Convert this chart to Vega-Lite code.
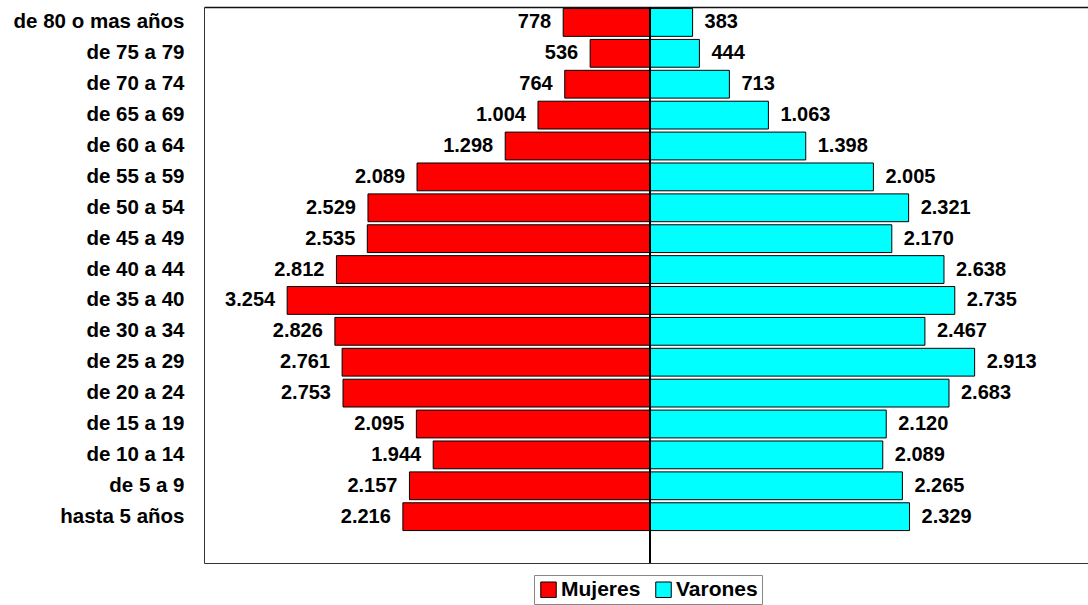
{
  "$schema": "https://vega.github.io/schema/vega-lite/v6.json",
  "width": 884,
  "height": 556,
  "autosize": {"type": "none"},
  "padding": {"left": 204, "top": 7, "right": 0, "bottom": 42},
  "config": {
    "view": {"stroke": null},
    "font": "Liberation Sans",
    "locale": {"number": {"decimal": ",", "thousands": ".", "grouping": [3], "currency": ["$", ""]}}
  },
  "data": {"values": [
    {"edad": "de 80 o mas años", "sexo": "Mujeres", "poblacion": 778},
    {"edad": "de 80 o mas años", "sexo": "Varones", "poblacion": 383},
    {"edad": "de 75 a 79", "sexo": "Mujeres", "poblacion": 536},
    {"edad": "de 75 a 79", "sexo": "Varones", "poblacion": 444},
    {"edad": "de 70 a 74", "sexo": "Mujeres", "poblacion": 764},
    {"edad": "de 70 a 74", "sexo": "Varones", "poblacion": 713},
    {"edad": "de 65 a 69", "sexo": "Mujeres", "poblacion": 1004},
    {"edad": "de 65 a 69", "sexo": "Varones", "poblacion": 1063},
    {"edad": "de 60 a 64", "sexo": "Mujeres", "poblacion": 1298},
    {"edad": "de 60 a 64", "sexo": "Varones", "poblacion": 1398},
    {"edad": "de 55 a 59", "sexo": "Mujeres", "poblacion": 2089},
    {"edad": "de 55 a 59", "sexo": "Varones", "poblacion": 2005},
    {"edad": "de 50 a 54", "sexo": "Mujeres", "poblacion": 2529},
    {"edad": "de 50 a 54", "sexo": "Varones", "poblacion": 2321},
    {"edad": "de 45 a 49", "sexo": "Mujeres", "poblacion": 2535},
    {"edad": "de 45 a 49", "sexo": "Varones", "poblacion": 2170},
    {"edad": "de 40 a 44", "sexo": "Mujeres", "poblacion": 2812},
    {"edad": "de 40 a 44", "sexo": "Varones", "poblacion": 2638},
    {"edad": "de 35 a 40", "sexo": "Mujeres", "poblacion": 3254},
    {"edad": "de 35 a 40", "sexo": "Varones", "poblacion": 2735},
    {"edad": "de 30 a 34", "sexo": "Mujeres", "poblacion": 2826},
    {"edad": "de 30 a 34", "sexo": "Varones", "poblacion": 2467},
    {"edad": "de 25 a 29", "sexo": "Mujeres", "poblacion": 2761},
    {"edad": "de 25 a 29", "sexo": "Varones", "poblacion": 2913},
    {"edad": "de 20 a 24", "sexo": "Mujeres", "poblacion": 2753},
    {"edad": "de 20 a 24", "sexo": "Varones", "poblacion": 2683},
    {"edad": "de 15 a 19", "sexo": "Mujeres", "poblacion": 2095},
    {"edad": "de 15 a 19", "sexo": "Varones", "poblacion": 2120},
    {"edad": "de 10 a 14", "sexo": "Mujeres", "poblacion": 1944},
    {"edad": "de 10 a 14", "sexo": "Varones", "poblacion": 2089},
    {"edad": "de 5 a 9", "sexo": "Mujeres", "poblacion": 2157},
    {"edad": "de 5 a 9", "sexo": "Varones", "poblacion": 2265},
    {"edad": "hasta 5 años", "sexo": "Mujeres", "poblacion": 2216},
    {"edad": "hasta 5 años", "sexo": "Varones", "poblacion": 2329}
  ]},
  "transform": [
    {"calculate": "datum.sexo === 'Mujeres' ? -datum.poblacion : datum.poblacion", "as": "x"}
  ],
  "encoding": {
    "y": {
      "field": "edad",
      "type": "nominal",
      "scale": {
        "domain": ["de 80 o mas años", "de 75 a 79", "de 70 a 74", "de 65 a 69", "de 60 a 64", "de 55 a 59", "de 50 a 54", "de 45 a 49", "de 40 a 44", "de 35 a 40", "de 30 a 34", "de 25 a 29", "de 20 a 24", "de 15 a 19", "de 10 a 14", "de 5 a 9", "hasta 5 años", " "],
        "paddingInner": 0.1,
        "paddingOuter": 0.05
      },
      "axis": {
        "title": null,
        "ticks": false,
        "domainColor": "#333333",
        "domainWidth": 1,
        "labelFontSize": 20.5,
        "labelFontWeight": "bold",
        "labelColor": "#000000",
        "labelPadding": 20
      }
    }
  },
  "layer": [
    {
      "mark": {"type": "bar", "stroke": "#000000", "strokeWidth": 1},
      "encoding": {
        "x": {
          "field": "x",
          "type": "quantitative",
          "stack": null,
          "scale": {"domain": [-4000, 3930], "nice": false, "zero": false},
          "axis": {"orient": "bottom", "title": null, "labels": false, "ticks": false, "grid": false, "domainColor": "#333333", "domainWidth": 1}
        },
        "color": {
          "field": "sexo",
          "type": "nominal",
          "scale": {"domain": ["Mujeres", "Varones"], "range": ["#ff0000", "#00ffff"]},
          "legend": {
            "orient": "none",
            "legendX": 330,
            "legendY": 568,
            "direction": "horizontal",
            "title": null,
            "labelFontSize": 21,
            "labelFontWeight": "bold",
            "labelColor": "#000000",
            "symbolType": "square",
            "symbolSize": 240,
            "symbolStrokeColor": "#000000",
            "symbolStrokeWidth": 1,
            "symbolOpacity": 1,
            "strokeColor": "#888888",
            "padding": 4,
            "columnPadding": 12,
            "labelOffset": 2
          }
        }
      }
    },
    {
      "mark": {"type": "rule", "color": "#000000", "strokeWidth": 1.5},
      "encoding": {"x": {"datum": 0, "type": "quantitative", "axis": null}, "y": null}
    },
    {
      "transform": [{"filter": "datum.sexo === 'Mujeres'"}],
      "mark": {"type": "text", "align": "right", "baseline": "middle", "dx": -12, "fontSize": 20, "fontWeight": "bold", "color": "#000000"},
      "encoding": {
        "x": {"field": "x", "type": "quantitative", "axis": null},
        "text": {"field": "poblacion", "type": "quantitative", "format": ",d"}
      }
    },
    {
      "transform": [{"filter": "datum.sexo === 'Varones'"}],
      "mark": {"type": "text", "align": "left", "baseline": "middle", "dx": 12, "fontSize": 20, "fontWeight": "bold", "color": "#000000"},
      "encoding": {
        "x": {
          "field": "x",
          "type": "quantitative",
          "axis": {"orient": "top", "title": null, "labels": false, "ticks": false, "grid": false, "domainColor": "#111111", "domainWidth": 1.5}
        },
        "text": {"field": "poblacion", "type": "quantitative", "format": ",d"}
      }
    }
  ],
  "resolve": {"axis": {"x": "independent"}}
}
